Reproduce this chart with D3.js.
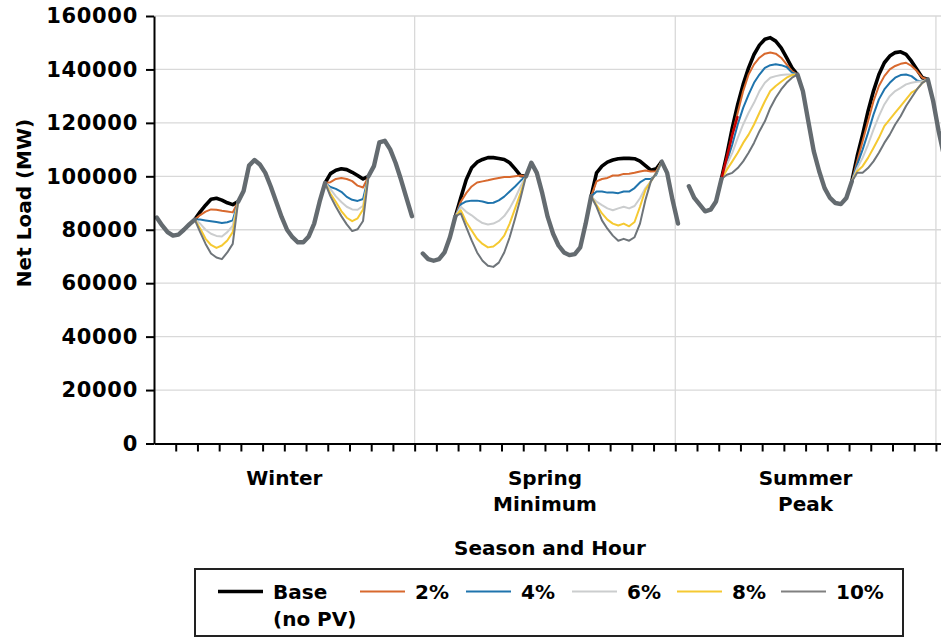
<!DOCTYPE html>
<html>
<head>
<meta charset="utf-8">
<script src="https://cdn.jsdelivr.net/npm/d3@7"></script>
<style>
  body { margin: 0; background: #fff; }
  text { font-family: "DejaVu Sans", sans-serif; font-weight: bold; fill: #000; }
</style>
</head>
<body>
<svg id="chart" width="941" height="637"></svg>
<script>
// Section labels and y ticks
const sections = [["Winter"], ["Spring", "Minimum"], ["Summer", "Peak"]];
const yTicks = [0, 20000, 40000, 60000, 80000, 100000, 120000, 140000, 160000];

// Net load outside the PV hours (same for every scenario), MW, null = PV hours
const winterCommon = [84600, 81600, 79100, 77800, 78200, 80000, 82000, 83800,
  null, null, null, null, null, null, null,
  90500, 94500, 104000, 106100, 104400, 101300, 96200, 90500, 84800, 80000, 77200, 75300, 75300, 77500, 82300, 90500, 97500,
  null, null, null, null, null, null, null,
  100000, 103800, 112700, 113300, 110100, 105000, 98700, 91800, 85100];
const springCommon = [71100, 69000, 68400, 69000, 71500, 77200, 85000,
  null, null, null, null, null, null, null, null, null, null, null, null,
  100000, 105100, 101300, 93700, 84800, 78500, 74100, 71500, 70500, 70900, 73400, 82300, 92500,
  null, null, null, null, null, null, null, null, null, null, null, null,
  105500, 101300, 91100, 82300];
const summerCommon = [96300, 91900, 89400, 86900, 87500, 90600, 99000,
  null, null, null, null, null, null, null, null, null, null, null, null, null,
  138100, 131900, 120600, 109400, 101900, 95600, 91900, 90000, 89600, 91900, 98000,
  null, null, null, null, null, null, null, null, null, null, null, null, null,
  136300, 128100, 116900, 107500];

// PV hours: one block per day (winter d1, d2, spring d1, d2, summer d1, d2)
const daySection = [0, 0, 1, 1, 2, 2];
const dayStart = [7, 31, 6, 31, 6, 30];

const baseLoad = [
  [86700, 89200, 91400, 91800, 91100, 90100, 89400],
  [101000, 102300, 102800, 102500, 101500, 100300, 99000],
  [92000, 98700, 103200, 105300, 106300, 107000, 107000, 106700, 106300, 105100, 102800, 100300],
  [101300, 103800, 105300, 106100, 106600, 106700, 106700, 106600, 105700, 104000, 102300, 102800],
  [108100, 118100, 126900, 134400, 140600, 145600, 149100, 151300, 151900, 150600, 148100, 144400, 140600],
  [107500, 115600, 124400, 131900, 138100, 142500, 145000, 146300, 146600, 145600, 143100, 140000, 136900]
];
const pv2 = [
  [85500, 86800, 87600, 87500, 87100, 86800, 86500],
  [97800, 99000, 99400, 99000, 98200, 96500, 95800],
  [90500, 93700, 96200, 97700, 98100, 98500, 99000, 99400, 99700, 99700, 100000, 100300],
  [98100, 99000, 99400, 100300, 100300, 100900, 101000, 101300, 101800, 102200, 101800, 101900],
  [106900, 115600, 123800, 131900, 138100, 141900, 144400, 145900, 146300, 145900, 144400, 141900, 139400],
  [105600, 113100, 120600, 128100, 133800, 137500, 140000, 141300, 142100, 142500, 141300, 139400, 136900]
];
const pv4 = [
  [83800, 83500, 83200, 82900, 82500, 82800, 83500],
  [96000, 95300, 94200, 92300, 91200, 90800, 91500],
  [89500, 90600, 90900, 90900, 90600, 90000, 90100, 91000, 92400, 94300, 96200, 98300],
  [94300, 94300, 93900, 93900, 93700, 94300, 94300, 95600, 97700, 99000, 99000, 100600],
  [105600, 111900, 119400, 125600, 130600, 135000, 138100, 140600, 141600, 141900, 141600, 140900, 138800],
  [104400, 110000, 116300, 123100, 128800, 132500, 135000, 136900, 137900, 138100, 137500, 135900, 135400]
];
const pv6 = [
  [82300, 80000, 78500, 77700, 77500, 79100, 81500],
  [95200, 92500, 90400, 88600, 87600, 87500, 89000],
  [88600, 86700, 85400, 83800, 82500, 82000, 82300, 83300, 85100, 88000, 91800, 96200],
  [90500, 89200, 88000, 87300, 88000, 88600, 88000, 88900, 91800, 95600, 98100, 101300],
  [104400, 108800, 114400, 119400, 123800, 127500, 131900, 135000, 136900, 137500, 137900, 138100, 138100],
  [103100, 106900, 111900, 117500, 122500, 126900, 130000, 131900, 133100, 134400, 135000, 135400, 135600]
];
const pv8 = [
  [80500, 76600, 74300, 73200, 74100, 76000, 79100],
  [93500, 90400, 87000, 84500, 83200, 84300, 87600],
  [87300, 82900, 79700, 76600, 74700, 73400, 73700, 75300, 77800, 82300, 88000, 93700],
  [89200, 86100, 83800, 82300, 81600, 82300, 81300, 82900, 88600, 94900, 98100, 101300],
  [102500, 105600, 108800, 112500, 115600, 119400, 123800, 128100, 131900, 133800, 135400, 136900, 137900],
  [101900, 103800, 106900, 110600, 114400, 118800, 121300, 123800, 126300, 128800, 131300, 132500, 135000]
];
const pv10 = [
  [79100, 74700, 71100, 69600, 69000, 71500, 74700],
  [92500, 88600, 85100, 82000, 79500, 80200, 83300],
  [86100, 81000, 76000, 71500, 68400, 66500, 66100, 67700, 71500, 77200, 84200, 91800],
  [88600, 83500, 80400, 77800, 75900, 76600, 75900, 77200, 82300, 91100, 98100, 101300],
  [100600, 101300, 103100, 105600, 108800, 112500, 116900, 120600, 125600, 129400, 132500, 135000, 136900],
  [101300, 101300, 103100, 105600, 108800, 112500, 115600, 119400, 122500, 126300, 129400, 132500, 135000]
];
// stray red trace on the summer ramp (summer hours 6-9)
const redTrace = [99000, 107200, 115500, 122500];

const seriesNames = ["Base\n(no PV)", "2%", "4%", "6%", "8%", "10%"];
const seriesColors = ["#000000", "#d8692e", "#1f74ad", "#cbcdce", "#f5c932", "#6f757a"];
const seriesData = [baseLoad, pv2, pv4, pv6, pv8, pv10];

const commonData = [winterCommon, springCommon, summerCommon];
const sectionOffset = [0, 49, 98];

const svg = d3.select("#chart");
const plotLeft = 154, plotTop = 16, plotBottom = 443.5, step = 5.43;

const x = d3.scaleLinear().domain([0, 146]).range([plotLeft, plotLeft + 146 * step]);
const y = d3.scaleLinear().domain([0, 160000]).range([plotBottom, plotTop]);

// gridlines
svg.append("g")
    .selectAll("line")
    .data(yTicks.slice(1))
    .enter().append("line")
    .attr("x1", plotLeft).attr("x2", x(146))
    .attr("y1", d => y(d)).attr("y2", d => y(d))
    .attr("stroke", "#d9d9d9").attr("stroke-width", 1.3);

svg.append("g")
    .selectAll("line")
    .data([48, 96, 144])
    .enter().append("line")
    .attr("x1", d => x(d)).attr("x2", d => x(d))
    .attr("y1", plotTop).attr("y2", plotBottom)
    .attr("stroke", "#d9d9d9").attr("stroke-width", 1.3);

const line = d3.line()
    .defined(d => d.v != null)
    .x(d => x(sectionOffset[d.s] + d.h + 0.5))
    .y(d => y(d.v));

// PV-hour segments, base first so 10% sits on top
seriesData.forEach((series, k) => {
    series.forEach((vals, day) => {
        const s = daySection[day], start = dayStart[day];
        const end = start + vals.length + 1;
        const pts = [{s: s, h: start, v: commonData[s][start]}]
            .concat(vals.map((v, j) => ({s: s, h: start + 1 + j, v: v})))
            .concat([{s: s, h: end, v: commonData[s][end]}]);
        svg.append("path")
            .datum(pts)
            .attr("d", line)
            .attr("fill", "none")
            .attr("stroke", seriesColors[k])
            .attr("stroke-width", k === 0 ? 3.6 : 2)
            .attr("stroke-linejoin", "round");
    });
});

svg.append("path")
    .datum(redTrace.map((v, j) => ({s: 2, h: 6 + j, v: v})))
    .attr("d", line)
    .attr("fill", "none")
    .attr("stroke", "#c40000")
    .attr("stroke-width", 2.5);

// common (non-PV) hours, thick grey
commonData.forEach((vals, s) => {
    svg.append("path")
        .datum(vals.map((v, h) => ({s: s, h: h, v: v})))
        .attr("d", line)
        .attr("fill", "none")
        .attr("stroke", "#646b70")
        .attr("stroke-width", 4.4)
        .attr("stroke-linejoin", "round")
        .attr("stroke-linecap", "round");
});

// axes
const yAxis = svg.append("g")
    .attr("transform", `translate(${plotLeft},0)`)
    .call(d3.axisLeft(y).tickValues(yTicks).tickSize(8).tickSizeOuter(0).tickPadding(8).tickFormat(d3.format("d")));
yAxis.select(".domain").attr("stroke", "#000").attr("stroke-width", 2);
yAxis.selectAll(".tick line").attr("stroke", "#000").attr("stroke-width", 2);
yAxis.selectAll(".tick text")
    .style("font-size", "21px").style("font-family", "DejaVu Sans").style("font-weight", "bold")
    .attr("letter-spacing", "0.7px");

const xAxis = svg.append("g")
    .attr("transform", `translate(0,${plotBottom})`)
    .call(d3.axisBottom(x).tickValues(d3.range(4, 146, 4)).tickSize(8).tickSizeOuter(0).tickFormat(""));
xAxis.select(".domain").attr("stroke", "#000").attr("stroke-width", 2);
xAxis.selectAll(".tick line").attr("stroke", "#000").attr("stroke-width", 2);

// category labels
sections.forEach((lines, i) => {
    const t = svg.append("text")
        .attr("x", x(24 + 48 * i))
        .attr("y", 485)
        .attr("text-anchor", "middle")
        .style("font-size", "20px");
    lines.forEach((s, j) => {
        t.append("tspan").attr("x", x(24 + 48 * i)).attr("dy", j === 0 ? 0 : 25.5).text(s);
    });
});

svg.append("text")
    .attr("x", 550).attr("y", 555)
    .attr("text-anchor", "middle")
    .style("font-size", "20px")
    .text("Season and Hour");

svg.append("text")
    .attr("transform", "translate(31,203) rotate(-90)")
    .attr("text-anchor", "middle")
    .style("font-size", "20px")
    .text("Net Load (MW)");

// legend
svg.append("rect")
    .attr("x", 195).attr("y", 569)
    .attr("width", 708).attr("height", 67)
    .attr("fill", "none")
    .attr("stroke", "#222").attr("stroke-width", 2);

const legendX = [218, 360, 466, 572, 677, 781];
seriesNames.forEach((name, k) => {
    const g = svg.append("g").attr("transform", `translate(${legendX[k]},0)`);
    g.append("line")
        .attr("x1", 0).attr("x2", 45)
        .attr("y1", 591.5).attr("y2", 591.5)
        .attr("stroke", k === 5 ? "#808080" : seriesColors[k])
        .attr("stroke-width", k === 0 ? 3.5 : 2);
    const t = g.append("text").attr("x", 55).attr("y", 598.5).style("font-size", "20px");
    name.split("\n").forEach((s, j) => {
        t.append("tspan").attr("x", 55).attr("dy", j === 0 ? 0 : 27).text(s);
    });
});
</script>
</body>
</html>
